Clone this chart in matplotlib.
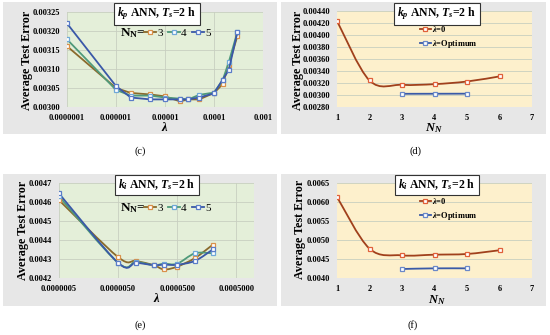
import numpy as np
import matplotlib
matplotlib.use("Agg")
import matplotlib.pyplot as plt
from matplotlib.path import Path
from matplotlib.patches import PathPatch, Rectangle
from matplotlib.lines import Line2D
from matplotlib.ticker import FixedLocator, FixedFormatter, NullLocator

plt.rcParams['font.family'] = ['Liberation Serif', 'DejaVu Serif']
plt.rcParams['font.weight'] = 'bold'
plt.rcParams['mathtext.fontset'] = 'custom'
plt.rcParams['mathtext.rm'] = 'Liberation Serif:bold'
plt.rcParams['mathtext.it'] = 'Liberation Serif:italic:bold'
plt.rcParams['mathtext.bf'] = 'Liberation Serif:bold'

# ---------------- data ----------------
# (c) kp ANN, lambda sweep
lam_c = [1e-7, 1e-6, 2e-6, 5e-6, 1e-5, 2e-5, 3e-5, 5e-5, 1e-4, 1.5e-4, 2e-4, 3e-4]
c_nn3 = [0.003160, 0.003050, 0.003037, 0.003033, 0.003028, 0.003015, 0.003020, 0.003020, 0.003037, 0.003060, 0.003110, 0.003187]
c_nn4 = [0.003178, 0.003045, 0.003030, 0.003030, 0.003025, 0.003022, 0.003020, 0.003032, 0.003038, 0.003070, 0.003118, 0.003197]
c_nn5 = [0.003220, 0.003055, 0.003025, 0.003020, 0.003020, 0.003020, 0.003020, 0.003025, 0.003036, 0.003072, 0.003097, 0.003197]

# (d) kp ANN, NN sweep
nn_all = [1, 2, 3, 4, 5, 6]
d_lam0 = [0.004235, 0.003242, 0.003170, 0.003181, 0.003225, 0.003310]
nn_opt = [3, 4, 5]
d_opt = [0.003020, 0.003021, 0.003022]

# (e) ki ANN, lambda sweep
lam_e = [5e-7, 5e-6, 1e-5, 2e-5, 3e-5, 5e-5, 1e-4, 2e-4]
e_nn3 = [0.004610, 0.004310, 0.004290, 0.004268, 0.004245, 0.004260, 0.004305, 0.004375]
e_nn4 = [0.004630, 0.004280, 0.004285, 0.004268, 0.004275, 0.004275, 0.004330, 0.004330]
e_nn5 = [0.004645, 0.004280, 0.004280, 0.004268, 0.004270, 0.004270, 0.004290, 0.004350]

# (f) ki ANN, NN sweep
f_lam0 = [0.006132, 0.004772, 0.004596, 0.004614, 0.004632, 0.004730]
f_opt = [0.004237, 0.004254, 0.004254]

xt_c = [1e-7, 1e-6, 1e-5, 1e-4, 1e-3]
xl_c = ['0.0000001', '0.000001', '0.00001', '0.0001', '0.001']
xt_e = [5e-7, 5e-6, 5e-5, 5e-4]
xl_e = ['0.0000005', '0.0000050', '0.0000500', '0.0005000']

# ---------------- style ----------------
C3_LINE, C3_MK = '#8a6a2c', '#d9904a'
C4_LINE, C4_MK = '#4f9a7a', '#6fa8d8'
C5_LINE, C5_MK = '#3a58a8', '#5a7cc8'
L0_LINE, L0_MK = '#a0401c', '#e0603a'
OP_LINE, OP_MK = '#3a5aa8', '#6a88c8'
GREEN_BG = '#e4efd9'
YELLOW_BG = '#fdf0cc'
FRAME = '#e7e7e7'

W, H = 550, 335
fig = plt.figure(figsize=(W / 100, H / 100), dpi=100)


def box(x0, y0, x1, y1):
    return [x0 / W, 1 - y1 / H, (x1 - x0) / W, (y1 - y0) / H]


def fx(x):
    return x / W


def fy(y):
    return 1 - y / H


# panel frames
for (x0, y0, x1, y1) in [(3, 2, 277, 134), (281, 2, 546, 134), (3, 174, 277, 306), (281, 174, 546, 306)]:
    fig.patches.append(Rectangle((fx(x0), fy(y1)), (x1 - x0) / W, (y1 - y0) / H,
                                 transform=fig.transFigure, facecolor=FRAME, edgecolor='none', zorder=-10))


def smooth_path(x, y, logx=False):
    u = np.log10(np.asarray(x, float)) if logx else np.asarray(x, float)
    v = np.asarray(y, float)
    n = len(u)
    verts = [(u[0], v[0])]
    codes = [Path.MOVETO]
    for i in range(n - 1):
        p0 = i - 1 if i > 0 else i
        p3 = i + 2 if i + 2 < n else i + 1
        c1 = (u[i] + (u[i + 1] - u[p0]) / 6.0, v[i] + (v[i + 1] - v[p0]) / 6.0)
        c2 = (u[i + 1] - (u[p3] - u[i]) / 6.0, v[i + 1] - (v[p3] - v[i]) / 6.0)
        verts += [c1, c2, (u[i + 1], v[i + 1])]
        codes += [Path.CURVE4] * 3
    verts = np.array(verts)
    if logx:
        verts[:, 0] = 10 ** verts[:, 0]
    return Path(verts, codes)


def series(ax, x, y, lc, mc, smooth=False, logx=False):
    if smooth:
        ax.add_patch(PathPatch(smooth_path(x, y, logx), fill=False, edgecolor=lc, lw=1.3, zorder=3))
        ax.plot(x, y, linestyle='none', marker='s', ms=3.2, mfc='white', mec=mc, mew=0.9, zorder=4)
    else:
        ax.plot(x, y, color=lc, lw=1.3, marker='s', ms=3.2, mfc='white', mec=mc, mew=0.9, zorder=3)


def style(ax, bg, yt, yfmt, xgrid):
    ax.set_facecolor(bg)
    for s in ax.spines.values():
        s.set_visible(False)
    ax.set_yticks(yt)
    ax.set_yticklabels([yfmt % v for v in yt])
    ax.grid(axis='y', color='#c8cfc0', lw=0.6)
    if xgrid:
        ax.grid(axis='x', color='#c8cfc0', lw=0.6)
    ax.set_axisbelow(True)
    ax.tick_params(length=0, labelsize=6, pad=5)
    for lab in ax.get_xticklabels() + ax.get_yticklabels():
        lab.set_fontweight('bold')


# ---------- (c) ----------
axc = fig.add_axes(box(67, 12, 263, 107))
axc.set_xscale('log')
for yv, lc, mc in [(c_nn3, C3_LINE, C3_MK), (c_nn4, C4_LINE, C4_MK), (c_nn5, C5_LINE, C5_MK)]:
    series(axc, lam_c, yv, lc, mc)
axc.set_xlim(1e-7, 1e-3)
axc.set_ylim(0.00300, 0.00325)
axc.xaxis.set_major_locator(FixedLocator(xt_c))
axc.xaxis.set_major_formatter(FixedFormatter(xl_c))
axc.xaxis.set_minor_locator(NullLocator())
style(axc, GREEN_BG, np.arange(0.00300, 0.003251, 0.00005), '%.5f', True)

# ---------- (d) ----------
axd = fig.add_axes(box(337, 11, 532, 107))
series(axd, nn_all, d_lam0, L0_LINE, L0_MK, smooth=True)
series(axd, nn_opt, d_opt, OP_LINE, OP_MK, smooth=True)
axd.set_xlim(1, 7)
axd.set_ylim(0.00280, 0.00440)
axd.set_xticks(range(1, 8))
style(axd, YELLOW_BG, np.arange(0.00280, 0.004401, 0.0002), '%.5f', False)

# ---------- (e) ----------
axe = fig.add_axes(box(59, 183, 254, 278))
axe.set_xscale('log')
for yv, lc, mc in [(e_nn3, C3_LINE, C3_MK), (e_nn4, C4_LINE, C4_MK), (e_nn5, C5_LINE, C5_MK)]:
    series(axe, lam_e, yv, lc, mc, smooth=True, logx=True)
axe.set_xlim(5e-7, 1e-3)
axe.set_ylim(0.0042, 0.0047)
axe.xaxis.set_major_locator(FixedLocator(xt_e))
axe.xaxis.set_major_formatter(FixedFormatter(xl_e))
axe.xaxis.set_minor_locator(NullLocator())
style(axe, GREEN_BG, np.arange(0.0042, 0.00471, 0.0001), '%.4f', True)

# ---------- (f) ----------
axf = fig.add_axes(box(337, 183, 532, 278))
series(axf, nn_all, f_lam0, L0_LINE, L0_MK, smooth=True)
series(axf, nn_opt, f_opt, OP_LINE, OP_MK, smooth=True)
axf.set_xlim(1, 7)
axf.set_ylim(0.0040, 0.0065)
axf.set_xticks(range(1, 8))
style(axf, YELLOW_BG, np.arange(0.0040, 0.00651, 0.0005), '%.4f', False)

# ---------- texts ----------
title_kp = r'$k_p$ ANN, $T_s$=2 h'
title_ki = r'$k_i$ ANN, $T_s$=2 h'
tb = dict(boxstyle='square,pad=0.25', fc='white', ec='#333333', lw=0.8)
for (x, y, t) in [(157, 14, title_kp), (437, 14, title_kp), (157, 185, title_ki), (437, 185, title_ki)]:
    fig.text(fx(x), fy(y), t, ha='center', va='center', fontsize=8.5, fontweight='bold', bbox=tb, zorder=10)

for (x, y) in [(27, 60), (298, 60), (23, 230), (300, 229)]:
    fig.text(fx(x), fy(y), 'Average Test Error', rotation=90, ha='center', va='center',
             fontsize=8.7, fontweight='bold')

fig.text(fx(165), fy(128), r'$\lambda$', ha='center', va='center', fontsize=9)
fig.text(fx(157), fy(299), r'$\lambda$', ha='center', va='center', fontsize=9)
fig.text(fx(434), fy(128), r'$N_N$', ha='center', va='center', fontsize=9)
fig.text(fx(437), fy(300), r'$N_N$', ha='center', va='center', fontsize=9)

for (x, y, t) in [(140, 151, '(c)'), (415, 151, '(d)'), (140, 325, '(e)'), (413, 325, '(f)')]:
    fig.text(fx(x), fy(y), t, ha='center', va='center', fontsize=7.5, fontweight='normal')


def h(lc, mc):
    return Line2D([], [], color=lc, lw=1.3, marker='s', ms=3.2, mfc='white', mec=mc, mew=0.9)


nn_handles = [h(C3_LINE, C3_MK), h(C4_LINE, C4_MK), h(C5_LINE, C5_MK)]
nn_labels = ['3', '4', '5']
for y in [33, 208]:
    fig.text(fx(120), fy(y), r'N$_\mathrm{N}$=', ha='left', va='center', fontsize=9.5, fontweight='bold')
    fig.legend(nn_handles, nn_labels, loc='center left', bbox_to_anchor=(fx(144), fy(y)),
               ncol=3, frameon=False, handlelength=1.1, handletextpad=0.1, columnspacing=0.45,
               borderpad=0, borderaxespad=0, prop={'family': 'Liberation Serif', 'weight': 'normal', 'size': 8})

lam_handles = [h(L0_LINE, L0_MK), h(OP_LINE, OP_MK)]
lam_labels = [r'$\lambda$=0', r'$\lambda$=Optimum']
for y in [24, 196]:
    fig.legend(lam_handles, lam_labels, loc='upper left', bbox_to_anchor=(fx(420), fy(y)),
               ncol=1, frameon=False, handlelength=1.3, handletextpad=0.1, labelspacing=0.5,
               borderpad=0, borderaxespad=0, prop={'family': 'Liberation Serif', 'weight': 'bold', 'size': 6})

fig.savefig('out.png', dpi=100)
